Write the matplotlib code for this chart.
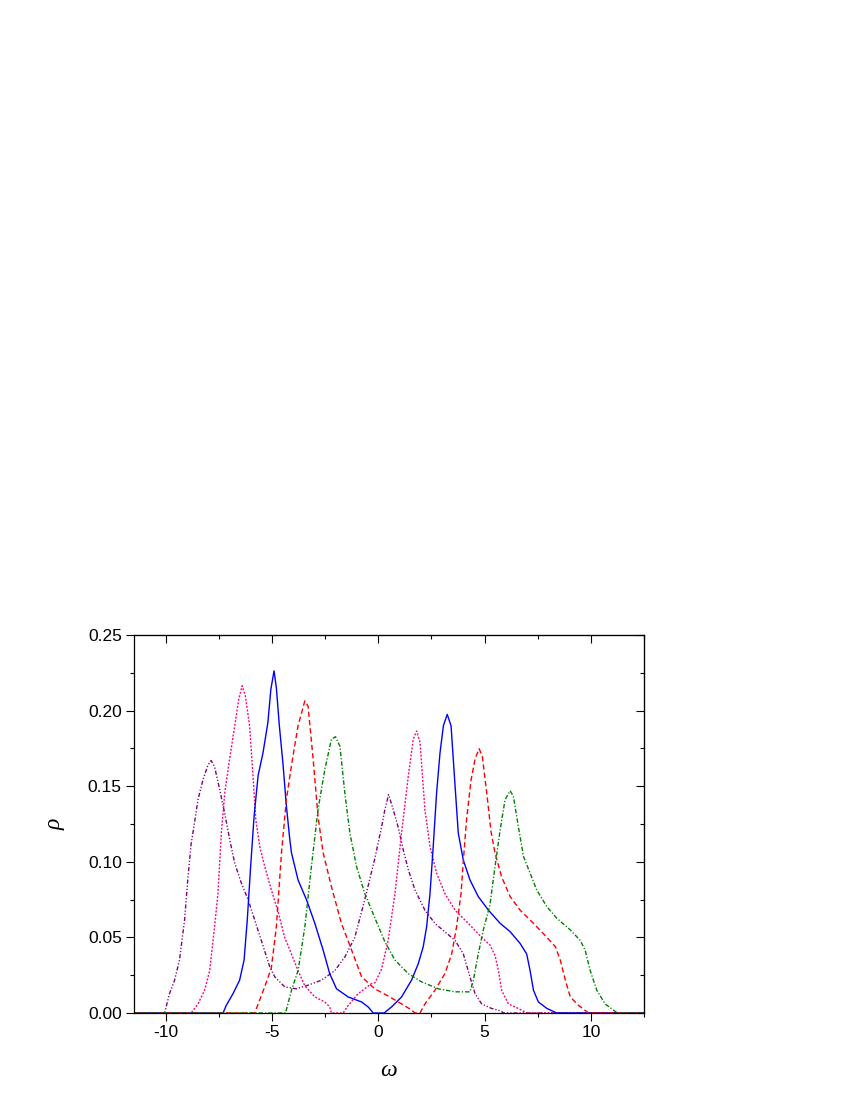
import matplotlib
matplotlib.use('Agg')
import matplotlib.pyplot as plt
from matplotlib.ticker import MultipleLocator, FormatStrFormatter

plt.rcParams['font.family'] = ['Liberation Sans', 'DejaVu Sans']
plt.rcParams['axes.unicode_minus'] = False

# Spectral density curves
purple_x = [-11.5, -10.06, -9.83, -9.59, -9.36, -9.12, -8.96, -8.81, -8.65, -8.49,
            -8.26, -8.02, -7.87, -7.71, -7.47, -7.23, -7.00, -6.76, -6.45, -6.13,
            -5.82, -5.51, -5.11, -4.88, -4.41, -3.86, -3.31, -2.68, -2.05, -1.58,
            -1.11, -0.64, -0.17, 0.15, 0.30, 0.48, 0.70, 0.93, 1.17, 1.41,
            1.72, 2.19, 2.66, 3.21, 3.61, 4.00, 4.31, 4.55, 4.86, 5.33,
            5.73, 5.90, 12.5]
purple_y = [0, 0, 0.0128, 0.0217, 0.035, 0.0615, 0.090, 0.112, 0.126, 0.141,
            0.154, 0.164, 0.167, 0.163, 0.148, 0.132, 0.115, 0.099, 0.086, 0.075,
            0.0615, 0.048, 0.0305, 0.024, 0.0173, 0.016, 0.0184, 0.0217, 0.028, 0.037,
            0.050, 0.075, 0.102, 0.123, 0.134, 0.1445, 0.1345, 0.123, 0.108, 0.0947,
            0.0814, 0.068, 0.0593, 0.0527, 0.048, 0.039, 0.0239, 0.0128, 0.006, 0.003,
            0.0015, 0, 0]

pink_x = [-11.5, -8.81, -8.49, -8.18, -7.94, -7.71, -7.55, -7.39, -7.23, -7.00,
          -6.76, -6.57, -6.41, -6.26, -6.06, -5.90, -5.77, -5.58, -5.35, -5.07,
          -4.72, -4.41, -4.09, -3.78, -3.46, -2.99, -2.52, -2.29, -2.21, -1.66,
          -1.42, -0.95, -0.32, -0.16, 0.15, 0.46, 0.78, 1.09, 1.41, 1.64,
          1.80, 1.96, 2.19, 2.43, 2.74, 3.13, 3.61, 4.23, 4.86, 5.25,
          5.49, 5.65, 5.80, 6.12, 6.59, 6.98, 12.5]
pink_y = [0, 0, 0.006, 0.015, 0.028, 0.057, 0.079, 0.119, 0.1456, 0.168,
          0.190, 0.2075, 0.2164, 0.2097, 0.190, 0.157, 0.128, 0.110, 0.097, 0.083,
          0.067, 0.050, 0.039, 0.028, 0.018, 0.0106, 0.0073, 0.004, 0, 0,
          0.005, 0.0128, 0.0195, 0.020, 0.029, 0.048, 0.079, 0.119, 0.157, 0.181,
          0.1865, 0.179, 0.1345, 0.110, 0.0925, 0.079, 0.068, 0.0593, 0.050, 0.045,
          0.038, 0.028, 0.015, 0.006, 0.003, 0, 0]

blue_x = [-11.5, -7.31, -7.16, -6.84, -6.53, -6.32, -6.17, -6.01, -5.85, -5.66,
          -5.43, -5.20, -5.06, -4.91, -4.80, -4.66, -4.49, -4.33, -4.17, -4.09,
          -3.78, -3.38, -2.99, -2.60, -2.29, -1.97, -1.42, -0.79, -0.48, -0.24,
          0.27, 0.62, 1.09, 1.56, 1.88, 2.11, 2.27, 2.43, 2.58, 2.74,
          2.90, 3.06, 3.24, 3.42, 3.61, 3.76, 4.00, 4.31, 4.70, 5.18,
          5.73, 6.20, 6.67, 6.98, 7.14, 7.30, 7.53, 7.93, 8.40, 12.5]
blue_y = [0, 0, 0.005, 0.0128, 0.0217, 0.035, 0.0615, 0.097, 0.130, 0.157,
          0.172, 0.192, 0.214, 0.2263, 0.215, 0.190, 0.165, 0.137, 0.115, 0.106,
          0.088, 0.0748, 0.0593, 0.0416, 0.026, 0.016, 0.0106, 0.0073, 0.004, 0,
          0, 0.004, 0.0106, 0.0217, 0.0327, 0.0438, 0.057, 0.079, 0.110, 0.1456,
          0.172, 0.190, 0.1975, 0.190, 0.150, 0.119, 0.101, 0.088, 0.077, 0.068,
          0.0593, 0.0538, 0.046, 0.039, 0.028, 0.015, 0.0073, 0.003, 0, 0]

red_x = [-11.5, -5.82, -5.35, -5.04, -4.80, -4.56, -4.33, -4.09, -3.78, -3.46,
         -3.31, -3.07, -2.84, -2.60, -2.21, -1.74, -1.26, -0.79, -0.17, 0.54,
         1.09, 1.56, 1.72, 1.96, 2.19, 2.66, 3.13, 3.45, 3.68, 3.89,
         4.00, 4.15, 4.36, 4.55, 4.74, 4.89, 5.10, 5.30, 5.49, 5.80,
         6.20, 6.67, 7.30, 7.93, 8.33, 8.56, 8.80, 9.03, 9.42, 9.89, 12.5]
red_y = [0, 0, 0.0173, 0.0295, 0.057, 0.106, 0.141, 0.1637, 0.190, 0.2064,
         0.203, 0.168, 0.130, 0.106, 0.0836, 0.0593, 0.0416, 0.0239, 0.016, 0.0106,
         0.006, 0.002, 0, 0, 0.006, 0.015, 0.026, 0.039, 0.057, 0.079,
         0.101, 0.128, 0.154, 0.168, 0.1748, 0.170, 0.1456, 0.120, 0.1057, 0.090,
         0.077, 0.068, 0.0593, 0.050, 0.0438, 0.035, 0.0217, 0.0106, 0.005, 0, 0]

green_x = [-11.5, -4.37, -4.09, -3.78, -3.46, -3.15, -2.84, -2.52, -2.21, -2.02,
           -1.81, -1.58, -1.34, -1.03, -0.64, -0.17, 0.31, 0.78, 1.41, 2.03,
           2.82, 3.61, 4.31, 4.47, 4.70, 4.94, 5.25, 5.49, 5.73, 5.96,
           6.20, 6.35, 6.59, 6.83, 7.14, 7.45, 7.93, 8.40, 9.03, 9.50,
           9.73, 9.97, 10.28, 10.67, 11.15, 11.25, 12.5]
green_y = [0, 0, 0.015, 0.028, 0.057, 0.097, 0.1345, 0.161, 0.181, 0.1827,
           0.1765, 0.1456, 0.119, 0.097, 0.079, 0.063, 0.047, 0.035, 0.026, 0.0206,
           0.016, 0.014, 0.014, 0.0217, 0.039, 0.055, 0.0715, 0.097, 0.121, 0.141,
           0.147, 0.1435, 0.123, 0.1035, 0.0925, 0.0814, 0.0703, 0.0626, 0.055, 0.048,
           0.0416, 0.028, 0.015, 0.006, 0.001, 0, 0]

fig = plt.figure(figsize=(8.5, 11), dpi=100)
ax = fig.add_axes([134 / 850, 1 - 1013 / 1100, (644 - 134) / 850, (1013 - 635) / 1100])

ax.plot(purple_x, purple_y, color='#800080', lw=1.0, dashes=(3.0, 1.4, 0.9, 1.4, 0.9, 1.4))
ax.plot(pink_x, pink_y, color='#FF0080', lw=1.0, dashes=(1.4, 1.2))
ax.plot(blue_x, blue_y, color='#0000FF', lw=1.0, linestyle='-')
ax.plot(red_x, red_y, color='#FF0000', lw=1.0, dashes=(3.8, 2.2))
ax.plot(green_x, green_y, color='#008000', lw=1.0, dashes=(3.2, 1.4, 0.9, 1.4))

ax.set_xlim(-11.5, 12.5)
ax.set_ylim(0, 0.25)

ax.xaxis.set_major_locator(MultipleLocator(5))
ax.xaxis.set_minor_locator(MultipleLocator(2.5))
ax.yaxis.set_major_locator(MultipleLocator(0.05))
ax.yaxis.set_minor_locator(MultipleLocator(0.025))
ax.yaxis.set_major_formatter(FormatStrFormatter('%.2f'))

for s in ax.spines.values():
    s.set_linewidth(0.9)

ax.tick_params(which='both', direction='out', width=0.8, labelsize=12.5, top=False, right=False)
ax.tick_params(which='major', length=5.8, pad=3)
ax.tick_params(which='minor', length=3.0)

# top and right ticks point inward
top = ax.secondary_xaxis('top')
top.xaxis.set_major_locator(MultipleLocator(5))
top.xaxis.set_minor_locator(MultipleLocator(2.5))
top.tick_params(which='both', direction='in', width=0.8, labeltop=False)
top.tick_params(which='major', length=5.8)
top.tick_params(which='minor', length=3.0)
right = ax.secondary_yaxis('right')
right.yaxis.set_major_locator(MultipleLocator(0.05))
right.yaxis.set_minor_locator(MultipleLocator(0.025))
right.tick_params(which='both', direction='in', width=0.8, labelright=False)
right.tick_params(which='major', length=5.8)
right.tick_params(which='minor', length=3.0)

ax.set_xlabel('ω', fontsize=17, family=['Liberation Serif', 'DejaVu Serif'], style='italic', labelpad=14)
ax.set_ylabel('ρ', fontsize=17, family=['Liberation Serif', 'DejaVu Serif'], style='italic', labelpad=16)

fig.savefig('out.png', dpi=100)
